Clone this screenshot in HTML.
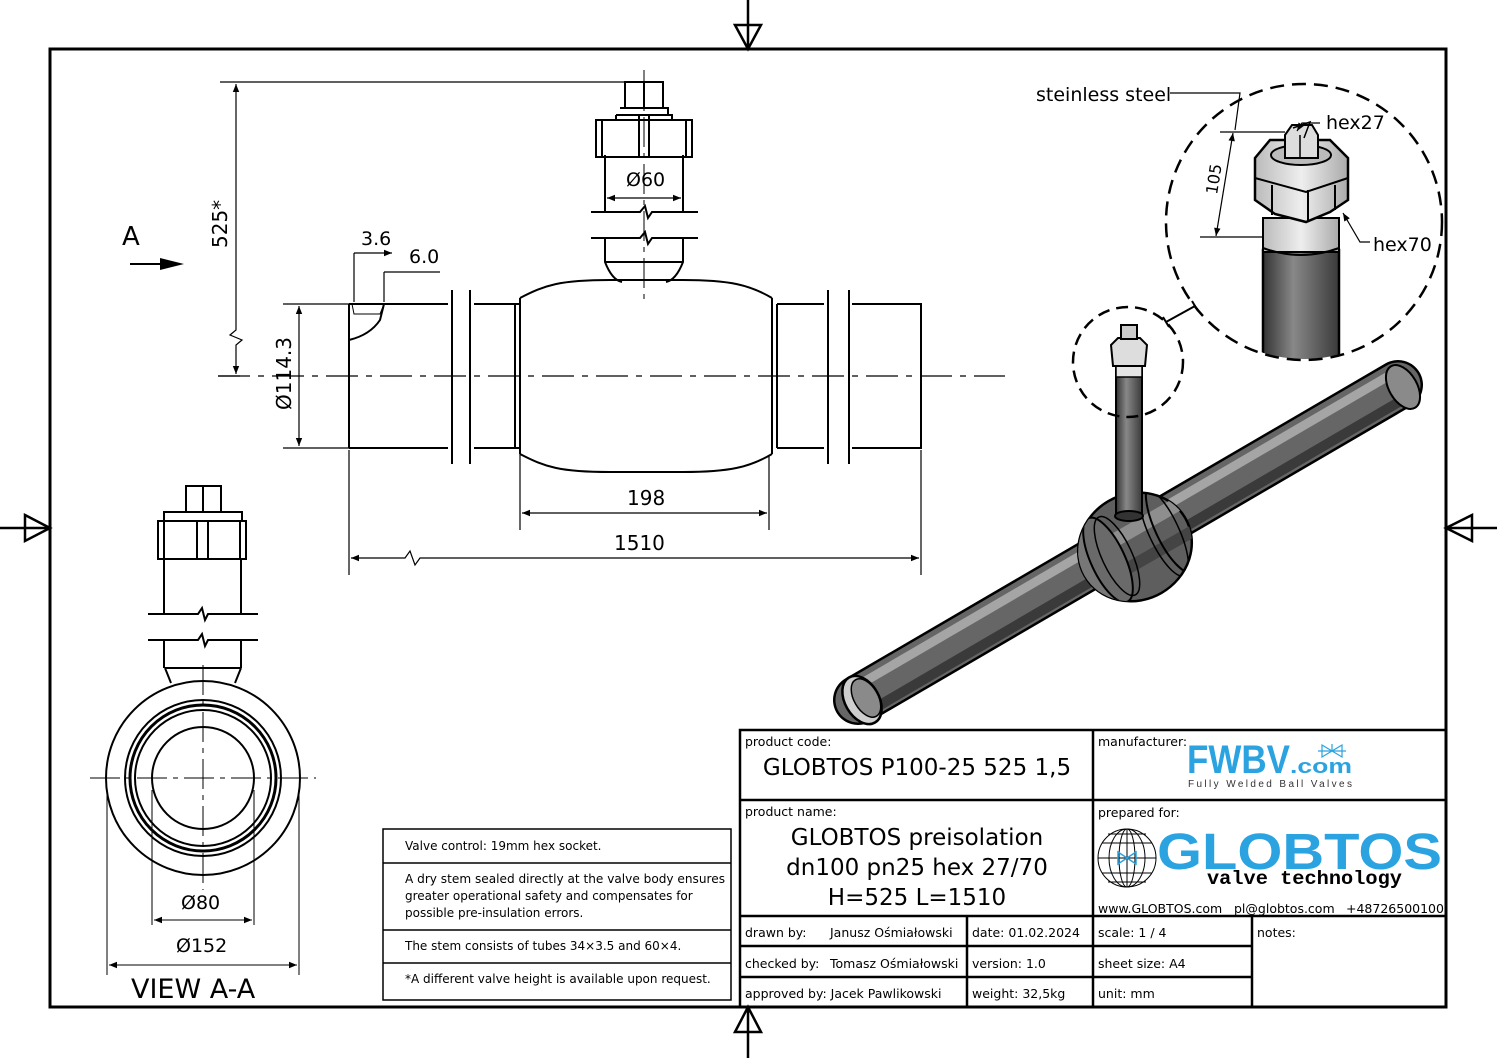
<!DOCTYPE html>
<html><head><meta charset="utf-8"><style>
html,body{margin:0;padding:0;background:#fff;}
svg{display:block;}
text{font-family:"DejaVu Sans","Liberation Sans",sans-serif;fill:#000;}
</style></head><body>
<svg width="1497" height="1058" viewBox="0 0 1497 1058" xmlns="http://www.w3.org/2000/svg">
<defs>
<linearGradient id="sg" x1="0" y1="0" x2="1" y2="0">
<stop offset="0" stop-color="#333"/><stop offset="0.4" stop-color="#888"/><stop offset="1" stop-color="#3a3a3a"/></linearGradient>
<linearGradient id="cg" x1="0" y1="0" x2="1" y2="0">
<stop offset="0" stop-color="#bbb"/><stop offset="0.5" stop-color="#eee"/><stop offset="1" stop-color="#aaa"/></linearGradient>
<marker id="ar" viewBox="0 0 10 10" refX="10" refY="5" markerWidth="12" markerHeight="8" orient="auto-start-reverse" markerUnits="userSpaceOnUse"><path d="M0,1 L10,5 L0,9 z" fill="#000"/></marker>
<clipPath id="bigc"><circle cx="1304" cy="222" r="137"/></clipPath>
<clipPath id="bodyc"><ellipse cx="1135" cy="547" rx="58" ry="53" transform="rotate(-30 1135 547)"/></clipPath>
</defs>

<!-- frame -->
<rect x="50" y="49" width="1396" height="958" fill="none" stroke="#000" stroke-width="3"/>
<g stroke="#000" stroke-width="2.5" fill="none">
<path d="M748,0 V49 M735,25 L748,49 L761,25 Z"/>
<path d="M748,1058 V1007 M735,1032 L748,1007 L761,1032 Z"/>
<path d="M0,528 H50 M25,515 L50,528 L25,541 Z"/>
<path d="M1497,528 H1446 M1472,515 L1446,528 L1472,541 Z"/>
</g>

<!-- FRONT VIEW -->
<g stroke="#000" stroke-width="2" fill="none">
<path d="M349,304 H448 M349,448 H448 M349,304 V448"/>
<path d="M474,304 H520 M474,448 H520"/>
<path d="M452,290 V464 M470,290 V464"/>
<path d="M515,304 V448 M520,298 V454 M772,298 V454 M777,304 V448"/>
<path d="M520,298 C545,285 560,280 610,280 L683,280 C730,280 750,285 772,298"/>
<path d="M520,454 C545,467 560,472 610,472 L683,472 C730,472 750,467 772,454"/>
<path d="M777,304 H824 M777,448 H824"/>
<path d="M828,290 V464 M849,290 V464"/>
<path d="M852,304 H921 V448 H852"/>
<path d="M605,238 V262 Q612,280 622,282 M683,238 V262 Q676,280 666,282"/>
<path d="M605,262 H683"/>
<path d="M605,155 V212 M683,155 V212"/>
<path d="M591,212 H640 L645,206 L648,218 L652,212 H698"/>
<path d="M591,238 H640 L645,232 L648,244 L652,238 H698"/>
<path d="M596,120 H692 V157 H596 Z"/>
<path d="M602,120 V157 M686,120 V157 M616,115 H672 V120 M616,115 V120"/>
<path d="M639,115 V157 M649,115 V157"/>
<path d="M625,82 H663 V108 H625 Z M644,82 V108 M620,108 H668 V115"/>
<path d="M349,304 V340 Q370,335 380,320 L384,304" />
</g>
<path d="M352,304 L384,304 L380,314 L354,314 Z" fill="none" stroke="#000" stroke-width="1"/>
<path d="M218,376 H1005" stroke="#000" stroke-width="1.2" stroke-dasharray="32,8,6,8" fill="none"/>
<path d="M644,70 V300" stroke="#000" stroke-width="1" stroke-dasharray="30,6,5,6" fill="none"/>
<g stroke="#000" stroke-width="1.2" fill="none">
<path d="M220,82 H625 M218,376 H240"/>
<path d="M236,84 V330 L230,335 L242,340 L236,345 V374" marker-start="url(#ar)" marker-end="url(#ar)"/>
<path d="M283,304 H349 M283,448 H349"/>
<path d="M299,306 V446" marker-start="url(#ar)" marker-end="url(#ar)"/>
<path d="M520,450 V530 M769,455 V530"/>
<path d="M522,513 H767" marker-start="url(#ar)" marker-end="url(#ar)"/>
<path d="M349,450 V575 M921,450 V575"/>
<path d="M351,558 H405 L410,551 L415,565 L420,558 H919" marker-start="url(#ar)" marker-end="url(#ar)"/>
<path d="M607,198 H681" marker-start="url(#ar)" marker-end="url(#ar)"/>
<path d="M354,253 V302 M354,253 H392" marker-end="url(#ar)"/>
<path d="M384,272 V302 M384,272 H440" />
<path d="M130,264 H165" stroke-width="2"/>
</g>
<path d="M160,258 L184,264 L160,270 Z" fill="#000"/>
<text x="122" y="245" font-size="26">A</text>
<text x="227" y="248" font-size="20" transform="rotate(-90 227 248)">525*</text>
<text x="291" y="410" font-size="20" transform="rotate(-90 291 410)">Ø114.3</text>
<text x="361" y="245" font-size="19">3.6</text>
<text x="409" y="263" font-size="19">6.0</text>
<text x="626" y="186" font-size="19">Ø60</text>
<text x="627" y="505" font-size="20">198</text>
<text x="614" y="550" font-size="20">1510</text>

<!-- VIEW A-A -->
<g stroke="#000" stroke-width="2" fill="none">
<circle cx="203" cy="778" r="97"/>
<circle cx="203" cy="778" r="78"/>
<circle cx="203" cy="778" r="73" stroke-width="3"/>
<circle cx="203" cy="778" r="68"/>
<circle cx="203" cy="778" r="51"/>
<path d="M171,683 L165,668 M235,683 L241,668 M165,668 H241"/>
<path d="M164,558 V614 M241,558 V614 M164,640 V668 M241,640 V668"/>
<path d="M148,614 H198 L202,608 L205,620 L208,614 H258"/>
<path d="M148,640 H198 L202,634 L205,646 L208,640 H258"/>
<rect x="158" y="521" width="88" height="38"/>
<path d="M164,521 V559 M240,521 V559 M197,521 V559 M208,521 V559 M164,521 V512 H242 V521"/>
<rect x="186" y="486" width="35" height="26"/>
<path d="M203,486 V512"/>
</g>
<g stroke="#000" stroke-width="1" fill="none">
<path d="M90,778 H316 M203,665 V890" stroke-dasharray="30,6,5,6"/>
<path d="M152,790 V925 M254,790 V925 M107,790 V975 M299,790 V975"/>
<path d="M154,920 H252" marker-start="url(#ar)" marker-end="url(#ar)"/>
<path d="M109,965 H297" marker-start="url(#ar)" marker-end="url(#ar)"/>
</g>
<text x="181" y="909" font-size="19">Ø80</text>
<text x="176" y="952" font-size="19">Ø152</text>
<text x="131" y="998" font-size="27">VIEW A-A</text>

<!-- NOTES TABLE -->
<g stroke="#000" stroke-width="1.5" fill="none">
<rect x="383" y="829" width="348" height="171"/>
<path d="M383,863 H731 M383,930 H731 M383,963 H731"/>
</g>
<g font-size="12">
<text x="405" y="850">Valve control: 19mm hex socket.</text>
<text x="405" y="883" textLength="320" lengthAdjust="spacingAndGlyphs">A dry stem sealed directly at the valve body ensures</text>
<text x="405" y="900">greater operational safety and compensates for</text>
<text x="405" y="917">possible pre-insulation errors.</text>
<text x="405" y="950">The stem consists of tubes 34×3.5 and 60×4.</text>
<text x="405" y="983">*A different valve height is available upon request.</text>
</g>

<!-- ISOMETRIC -->
<g>
<line x1="858" y1="700" x2="1398" y2="385" stroke="#000" stroke-width="50" stroke-linecap="round"/>
<line x1="858" y1="700" x2="1398" y2="385" stroke="#666" stroke-width="45" stroke-linecap="round"/>
<line x1="850" y1="690" x2="1392" y2="374" stroke="#a5a5a5" stroke-width="9"/>
<line x1="868" y1="712" x2="1404" y2="399" stroke="#3a3a3a" stroke-width="10"/>
<ellipse cx="862" cy="700" rx="17" ry="26" transform="rotate(-30 862 700)" fill="#cfcfcf" stroke="#000" stroke-width="2.5"/>
<ellipse cx="866" cy="698" rx="12" ry="21" transform="rotate(-30 866 698)" fill="#8a8a8a" stroke="#000" stroke-width="1.5"/>
<ellipse cx="1403" cy="387" rx="14" ry="24" transform="rotate(-30 1403 387)" fill="#8a8a8a" stroke="#000" stroke-width="2"/>
<!-- body -->
<ellipse cx="1135" cy="547" rx="58" ry="53" transform="rotate(-30 1135 547)" fill="#5e5e5e" stroke="#000" stroke-width="2.5"/>
<g clip-path="url(#bodyc)">
<line x1="1080" y1="560" x2="1190" y2="497" stroke="#8e8e8e" stroke-width="14"/>
<line x1="1090" y1="590" x2="1200" y2="527" stroke="#444" stroke-width="12"/>
<ellipse cx="1172" cy="527" rx="17" ry="50" transform="rotate(-25 1172 527)" fill="none" stroke="#000" stroke-width="2"/>
<ellipse cx="1164" cy="532" rx="15" ry="48" transform="rotate(-25 1164 532)" fill="none" stroke="#000" stroke-width="1.5"/>
<ellipse cx="1093" cy="568" rx="19" ry="52" transform="rotate(-25 1093 568)" fill="#777" stroke="#000" stroke-width="2"/>
<ellipse cx="1108" cy="560" rx="17" ry="46" transform="rotate(-25 1108 560)" fill="#6a6a6a" stroke="#000" stroke-width="2"/>
<ellipse cx="1117" cy="556" rx="15" ry="43" transform="rotate(-25 1117 556)" fill="none" stroke="#000" stroke-width="1.5"/>
</g>
<!-- stem -->
<rect x="1116" y="358" width="26" height="158" fill="url(#sg)" stroke="#000" stroke-width="2"/>
<ellipse cx="1129" cy="516" rx="14" ry="5" fill="#333" stroke="#000" stroke-width="2"/>
<rect x="1116" y="365" width="26" height="12" fill="#e5e5e5" stroke="#000" stroke-width="1.5"/>
<path d="M1111,345 L1113,366 H1145 L1147,345 L1140,338 H1118 Z" fill="#ddd" stroke="#000" stroke-width="2"/>
<rect x="1121" y="325" width="16" height="14" fill="#ccc" stroke="#000" stroke-width="2"/>
<circle cx="1128" cy="362" r="55" fill="none" stroke="#000" stroke-width="2.5" stroke-dasharray="12,7"/>
<path d="M1166,322 L1195,306 M1163,317 L1169,327 M1192,301 L1198,311" stroke="#000" stroke-width="2"/>
</g>

<!-- BIG DETAIL -->
<g clip-path="url(#bigc)">
<rect x="1263" y="250" width="76" height="120" fill="url(#sg)" stroke="#000" stroke-width="2.5"/>
<rect x="1263" y="218" width="76" height="34" fill="url(#cg)" stroke="#000" stroke-width="2"/>
</g>
<path d="M1263,248 Q1301,262 1339,248" fill="none" stroke="#000" stroke-width="2"/>
<path d="M1255,158 L1270,140 H1330 L1348,158 V200 L1330,212 L1306,222 L1275,214 L1255,200 Z" fill="url(#cg)" stroke="#000" stroke-width="2.5"/>
<path d="M1272,185 V215 M1308,190 V222 M1335,185 V210 M1255,178 L1306,192 L1348,178" fill="none" stroke="#000" stroke-width="2"/>
<ellipse cx="1301" cy="155" rx="30" ry="10" fill="#bbb" stroke="#000" stroke-width="2"/>
<path d="M1285,135 L1292,125 H1312 L1318,135 V158 H1285 Z" fill="#ddd" stroke="#000" stroke-width="2"/>
<path d="M1300,135 V158 M1293,128 L1310,122 L1304,138" fill="none" stroke="#000" stroke-width="1.5"/>
<circle cx="1304" cy="222" r="138" fill="none" stroke="#000" stroke-width="2.5" stroke-dasharray="14,8"/>
<g stroke="#000" stroke-width="1.2" fill="none">
<path d="M1170,93 H1240 L1235,130"/>
<path d="M1220,132 H1285 M1200,237 H1263"/>
<path d="M1233,133 L1216,236" marker-start="url(#ar)" marker-end="url(#ar)"/>
<path d="M1320,123 H1302 L1297,131" marker-end="url(#ar)"/>
<path d="M1370,242 H1360 L1343,213" marker-end="url(#ar)"/>
</g>
<text x="1036" y="101" font-size="19">steinless steel</text>
<text x="1326" y="129" font-size="19">hex27</text>
<text x="1373" y="251" font-size="19">hex70</text>
<text x="1217" y="195" font-size="16" transform="rotate(-81 1217 195)">105</text>

<!-- TITLE BLOCK -->
<g stroke="#000" stroke-width="2.5" fill="none">
<rect x="740" y="730" width="706" height="277"/>
<path d="M740,800 H1446 M740,916 H1446 M740,946 H1252 M740,977 H1252"/>
<path d="M1093,730 V1007 M967,916 V1007 M1252,916 V1007"/>
</g>
<g font-size="12.5">
<text x="745" y="746">product code:</text>
<text x="1098" y="746">manufacturer:</text>
<text x="745" y="816">product name:</text>
<text x="1098" y="817">prepared for:</text>
<text x="745" y="937">drawn by:</text>
<text x="830" y="937">Janusz Ośmiałowski</text>
<text x="972" y="937">date: 01.02.2024</text>
<text x="1098" y="937">scale: 1 / 4</text>
<text x="1257" y="937">notes:</text>
<text x="745" y="968">checked by:</text>
<text x="830" y="968">Tomasz Ośmiałowski</text>
<text x="972" y="968">version:  1.0</text>
<text x="1098" y="968">sheet size:  A4</text>
<text x="745" y="998">approved by: Jacek Pawlikowski</text>
<text x="972" y="998">weight:  32,5kg</text>
<text x="1098" y="998">unit:  mm</text>
<text x="1098" y="913">www.GLOBTOS.com</text>
<text x="1234" y="913">pl@globtos.com</text>
<text x="1346" y="913">+48726500100</text>
</g>
<text x="917" y="775" font-size="23" text-anchor="middle">GLOBTOS P100-25 525 1,5</text>
<text x="917" y="845" font-size="23" text-anchor="middle">GLOBTOS preisolation</text>
<text x="917" y="875" font-size="23" text-anchor="middle">dn100 pn25 hex 27/70</text>
<text x="917" y="905" font-size="23" text-anchor="middle">H=525 L=1510</text>
<!-- FWBV logo -->
<text x="1187" y="773" style="font-family:'Liberation Sans',sans-serif;font-weight:bold;font-size:40px;fill:#2aa3e0" textLength="103" lengthAdjust="spacingAndGlyphs">FWBV</text>
<text x="1290" y="773" style="font-family:'Liberation Sans',sans-serif;font-weight:bold;font-size:20px;fill:#2aa3e0" textLength="62" lengthAdjust="spacingAndGlyphs">.com</text>
<path d="M1322,745 L1332,751 L1322,757 Z M1342,745 L1332,751 L1342,757 Z M1332,744 V751 M1318,751 H1346" fill="none" stroke="#2aa3e0" stroke-width="1.2"/>
<text x="1188" y="787" style="font-family:'Liberation Sans',sans-serif;font-size:10px;fill:#333" textLength="164" lengthAdjust="spacing">Fully Welded Ball Valves</text>
<!-- GLOBTOS logo -->
<g stroke="#000" stroke-width="1" fill="none">
<circle cx="1127" cy="858" r="29"/>
<ellipse cx="1127" cy="858" rx="18" ry="29"/><ellipse cx="1127" cy="858" rx="8" ry="29"/>
<path d="M1127,829 V887 M1098,858 H1156 M1102,843 H1152 M1102,873 H1152 M1108,834 H1146 M1108,882 H1146"/>
</g>
<path d="M1118,852 L1127,858 L1118,864 Z M1136,852 L1127,858 L1136,864 Z" fill="none" stroke="#2aa3e0" stroke-width="1.5"/>
<text x="1157" y="869" style="font-family:'Liberation Sans',sans-serif;font-weight:bold;font-size:51px;fill:#2aa3e0" textLength="285" lengthAdjust="spacingAndGlyphs">GLOBTOS</text>
<text x="1207" y="884" style="font-family:'Liberation Mono',monospace;font-weight:bold;font-size:19px" textLength="195" lengthAdjust="spacingAndGlyphs">valve technology</text>
</svg>
</body></html>
